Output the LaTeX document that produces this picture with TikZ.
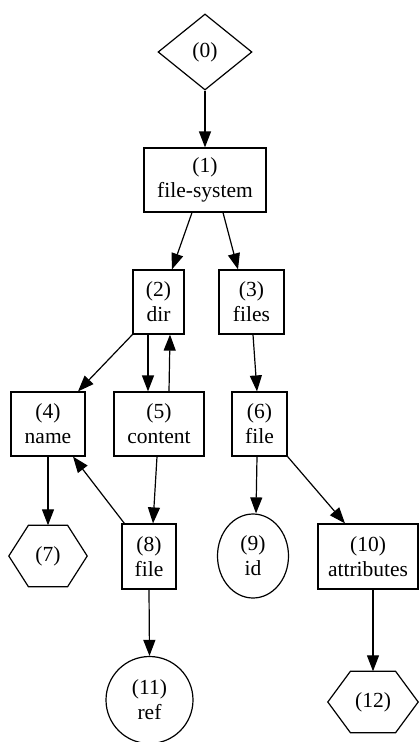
\documentclass[tikz,border=0pt]{standalone}
\usepackage{fontspec}
\setmainfont{Liberation Serif}
\usetikzlibrary{shapes.geometric,arrows.meta,calc}

\begin{document}
\begin{tikzpicture}[x=1pt,y=-1pt,
  every node/.style={font=\fontsize{21.5}{25}\selectfont, align=center, inner sep=0pt},
  boxnode/.style={draw, rectangle, line width=1.2pt, minimum height=64pt},
  diamondnode/.style={draw, diamond, line width=1.2pt, minimum width=94pt, minimum height=76pt},
  ellnode/.style={draw, ellipse, line width=1.2pt},
  hexnode/.style={rectangle, minimum height=61pt},
  edge/.style={line width=1.2pt, -{Triangle[length=16pt,width=12pt]}},
  hexline/.style={line width=1.2pt}
]
\useasboundingbox (0,0) rectangle (420,742);

% nodes
\node[diamondnode] (n0) at (205,52) {(0)};
\node[boxnode, minimum width=122pt] (n1) at (205,180) {(1)\\file-system};
\node[boxnode, minimum width=51pt] (n2) at (158.5,302) {(2)\\dir};
\node[boxnode, minimum width=65pt] (n3) at (251.5,302) {(3)\\files};
\node[boxnode, minimum width=74pt] (n4) at (48,424) {(4)\\name};
\node[boxnode, minimum width=90pt] (n5) at (159,424) {(5)\\content};
\node[boxnode, minimum width=55pt] (n6) at (259.5,424) {(6)\\file};
\node[hexnode, minimum width=78pt] (n7) at (48,556) {(7)};
\node[boxnode, minimum width=54pt, minimum height=65pt] (n8) at (149,556.5) {(8)\\file};
\node[ellnode, minimum width=71pt, minimum height=84pt] (n9) at (253,556) {(9)\\id};
\node[boxnode, minimum width=100pt, minimum height=65pt] (n10) at (368,556.5) {(10)\\attributes};
\node[ellnode, minimum width=87pt, minimum height=87pt] (n11) at (149.5,700) {(11)\\ref};
\node[hexnode, minimum width=90pt] (n12) at (373,702) {(12)};

% hexagon outlines around the hexagon nodes
\foreach \h in {n7,n12}{
  \draw[hexline] (\h.west)
    -- ($(\h.north west)!0.25!(\h.north east)$)
    -- ($(\h.north west)!0.75!(\h.north east)$)
    -- (\h.east)
    -- ($(\h.south west)!0.75!(\h.south east)$)
    -- ($(\h.south west)!0.25!(\h.south east)$)
    -- cycle;
}

% edges
\draw[edge] (n0.south) -- (n1.north);
\draw[edge] ([xshift=-13pt]n1.south) -- ([xshift=13.5pt]n2.north);
\draw[edge] ([xshift=18pt]n1.south) -- ([xshift=-13.5pt]n3.north);
\draw[edge] (n2.south west) -- ([xshift=30pt]n4.north);
\draw[edge] ([xshift=-10.5pt]n2.south) -- ([xshift=-11pt]n5.north);
\draw[edge] ([xshift=10pt]n5.north) -- ([xshift=11.5pt]n2.south);
\draw[edge] ([xshift=1.5pt]n3.south) -- ([xshift=-2.5pt]n6.north);
\draw[edge] (n4.south) -- (n7.north);
\draw[edge] ([xshift=-2pt]n5.south) -- ([xshift=4pt]n8.north);
\draw[edge] ([xshift=3pt]n8.north west) -- ([xshift=25pt]n4.south);
\draw[edge] ([xshift=-2.5pt]n6.south) -- ([xshift=3pt]n9.north);
\draw[edge] (n6.south east) -- ([xshift=-23pt]n10.north);
\draw[edge] (n8.south) -- (n11.north);
\draw[edge] ([xshift=5pt]n10.south) -- (n12.north);
\end{tikzpicture}
\end{document}
